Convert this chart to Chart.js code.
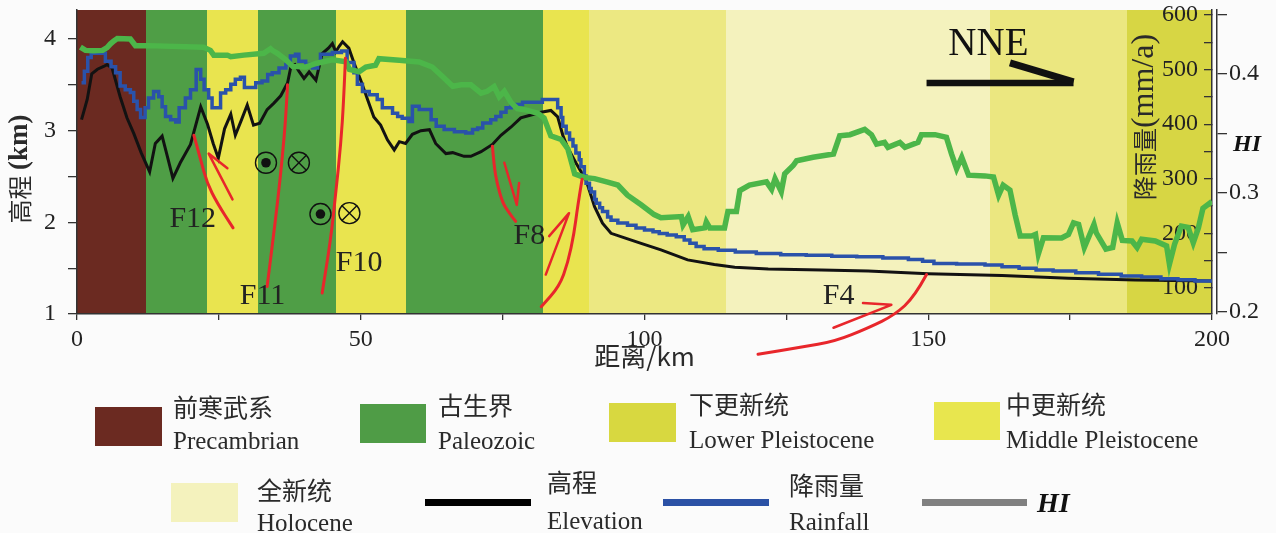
<!DOCTYPE html>
<html>
<head>
<meta charset="utf-8">
<script src="https://cdn.jsdelivr.net/npm/chart.js@4.4.1/dist/chart.umd.min.js"></script>
<style>
  html, body { margin: 0; padding: 0; background: #fbfbfb; }
  #wrap { position: relative; width: 1276px; height: 533px; overflow: hidden; color: #222; }
  #wrap canvas { position: absolute; left: 0; top: 0; }
  .sw { position: absolute; }
  .t { position: absolute; white-space: nowrap; line-height: 1; }
  .zh { font-family: 'Noto Sans CJK SC', sans-serif; font-size: 25px; color: #2a2a2a; }
  .en { font-family: 'Liberation Serif', serif; font-size: 25px; color: #2a2a2a; }
  .hi { font-family: 'Liberation Serif', serif; font-size: 28px; font-style: italic; font-weight: bold; color: #111; }
</style>
</head>
<body>
<div id="wrap">
  <canvas id="profile" width="1276" height="533"></canvas>

  <!-- legend: geological units -->
  <div class="sw" style="left:95px;top:407px;width:67px;height:39px;background:#6b2a21"></div>
  <div class="t zh" style="left:173px;top:394px">前寒武系</div>
  <div class="t en" style="left:173px;top:428px">Precambrian</div>

  <div class="sw" style="left:360px;top:404px;width:66px;height:39px;background:#4f9c46"></div>
  <div class="t zh" style="left:438px;top:392px">古生界</div>
  <div class="t en" style="left:438px;top:428px">Paleozoic</div>

  <div class="sw" style="left:609px;top:403px;width:67px;height:39px;background:#d8d840"></div>
  <div class="t zh" style="left:689px;top:391px">下更新统</div>
  <div class="t en" style="left:689px;top:427px">Lower Pleistocene</div>

  <div class="sw" style="left:934px;top:402px;width:66px;height:38px;background:#e8e64e"></div>
  <div class="t zh" style="left:1006px;top:391px">中更新统</div>
  <div class="t en" style="left:1006px;top:427px">Middle Pleistocene</div>

  <div class="sw" style="left:171px;top:483px;width:67px;height:39px;background:#f4f2bd"></div>
  <div class="t zh" style="left:257px;top:477px">全新统</div>
  <div class="t en" style="left:257px;top:510px">Holocene</div>

  <!-- legend: profile curves -->
  <div class="sw" style="left:425px;top:499px;width:106px;height:7px;background:#000"></div>
  <div class="t zh" style="left:547px;top:469px">高程</div>
  <div class="t en" style="left:547px;top:508px">Elevation</div>

  <div class="sw" style="left:663px;top:499px;width:106px;height:7px;background:#2b51a5"></div>
  <div class="t zh" style="left:789px;top:472px">降雨量</div>
  <div class="t en" style="left:789px;top:509px">Rainfall</div>

  <div class="sw" style="left:922px;top:499px;width:105px;height:7px;background:#808080"></div>
  <div class="t hi" style="left:1037px;top:489px">HI</div>
</div>

<script>
// ---- Swath profile along the NNE line (distance in km) ----
const elevKm  = [0.8, 1.8, 2.6, 3.6, 4.7, 5.3, 6.2, 7.6, 8.8, 10.0, 11.3, 12.8, 13.8, 15.0, 16.0, 16.9, 18.2, 20.0, 21.8, 23.0,
                 24.0, 24.9, 26.0, 27.1, 27.9, 29.0, 30.0, 31.1, 32.2, 33.5, 34.7, 35.9, 37.1, 37.7, 38.4, 39.1, 40.0, 40.9, 42.1, 43.2,
                 44.3, 45.0, 45.6, 46.2, 46.8, 47.9, 48.8, 50.0, 51.2, 52.3, 53.5, 54.7, 55.9, 56.8, 57.9, 59.1, 60.6, 62.1, 63.2, 65.0,
                 66.2, 68.2, 69.4, 71.2, 73.2, 74.7, 76.5, 78.2, 80.0, 81.8, 83.5, 84.7, 85.6, 86.5, 87.9, 89.7, 91.2, 92.6, 94.1, 96.5,
                 99.4, 102.9, 107.6, 112.3, 115.9, 121.8, 131.2, 139.4, 150.0, 163.0, 174.7, 186.5, 200.0];
const elevVal = [3.12, 3.34, 3.62, 3.67, 3.70, 3.72, 3.68, 3.37, 3.14, 2.97, 2.76, 2.55, 2.86, 2.94, 2.70, 2.48, 2.65, 2.85, 3.26, 3.07,
                 2.86, 2.70, 3.02, 3.18, 2.95, 3.12, 3.28, 3.06, 3.08, 3.23, 3.30, 3.38, 3.52, 3.70, 3.72, 3.65, 3.57, 3.64, 3.55, 3.84,
                 3.90, 3.95, 3.86, 3.92, 3.97, 3.90, 3.74, 3.55, 3.34, 3.15, 3.06, 2.90, 2.79, 2.88, 2.86, 2.96, 3.00, 3.01, 2.86, 2.75,
                 2.76, 2.72, 2.72, 2.77, 2.85, 2.95, 3.04, 3.14, 3.17, 3.20, 3.22, 3.15, 2.95, 2.81, 2.65, 2.46, 2.17, 1.99, 1.88, 1.83,
                 1.77, 1.70, 1.59, 1.54, 1.51, 1.49, 1.48, 1.47, 1.44, 1.42, 1.39, 1.37, 1.36];

// rainfall (mm/a), one value per step starting at the given distance
const rainKm  = [0.8, 1.3, 1.9, 2.5, 5.0, 6.0, 6.8, 7.6, 8.5, 9.4, 10.0, 10.6, 11.2, 12.0, 12.6, 13.5, 14.4, 15.0, 15.6, 16.5,
                 17.4, 18.0, 19.1, 20.0, 21.0, 21.8, 22.4, 23.2, 23.8, 25.3, 26.2, 27.1, 27.9, 28.8, 29.5, 31.5, 32.6, 33.6, 34.4, 35.6,
                 36.8, 37.6, 38.5, 39.1, 40.3, 41.5, 42.4, 42.9, 45.0, 46.6, 47.6, 48.8, 49.4, 50.3, 51.5, 52.9, 53.8, 55.6, 56.5, 57.3,
                 58.5, 59.1, 60.3, 62.4, 63.3, 64.7, 66.5, 68.5, 69.7, 70.6, 71.5, 72.9, 73.8, 74.7, 75.6, 76.5, 78.5, 82.0, 84.7, 85.3,
                 85.6, 86.2, 86.8, 87.4, 87.9, 88.5, 88.8, 89.4, 89.7, 90.3, 90.6, 91.2, 91.5, 92.1, 92.6, 93.5, 94.1, 95.3, 97.0, 98.5,
                 100.0, 101.5, 102.6, 104.0, 105.6, 107.0, 108.0, 109.1, 110.5, 113.0, 116.0, 119.7, 124.0, 128.5, 133.0, 137.4, 142.0, 146.5, 149.0, 151.0,
                 155.0, 160.0, 163.0, 166.0, 169.0, 172.0, 176.0, 180.0, 184.0, 187.6, 191.0, 194.0, 197.0, 200.0];
const rainVal = [476, 497, 522, 530, 515, 505, 494, 470, 463, 458, 442, 427, 412, 430, 448, 460, 450, 432, 414, 408,
                 404, 430, 448, 463, 500, 482, 463, 448, 430, 457, 463, 473, 482, 486, 467, 476, 479, 491, 494, 503,
                 509, 525, 528, 515, 509, 503, 512, 528, 531, 534, 513, 494, 473, 460, 454, 445, 430, 420, 414, 411,
                 405, 433, 427, 408, 396, 390, 386, 384, 390, 393, 402, 408, 414, 422, 430, 436, 440, 445, 430, 412,
                 396, 384, 372, 360, 347, 335, 322, 305, 292, 282, 276, 262, 255, 247, 240, 230, 224, 219, 215, 210,
                 206, 203, 200, 197, 194, 188, 182, 176, 172, 169, 166, 163, 161, 160, 158, 157, 155, 152, 149, 145,
                 144, 142, 139, 136, 133, 131, 128, 125, 122, 120, 117, 115, 113, 111];

// hypsometric integral
const hiKm  = [0.6, 1.5, 2.9, 4.5, 5.3, 5.9, 6.5, 7.1, 9.4, 10.3, 12.4, 22.3, 23.5, 24.1, 26.5, 27.1, 29.4, 32.9, 34.1, 34.4,
               35.3, 36.8, 38.0, 40.3, 42.1, 45.0, 47.4, 48.0, 49.7, 50.9, 52.6, 53.2, 56.8, 60.3, 62.6, 64.4, 66.2, 67.7, 69.4, 71.2,
               72.3, 73.5, 74.4, 75.3, 76.5, 77.6, 79.4, 81.2, 82.3, 83.5, 85.3, 86.5, 87.7, 89.4, 91.2, 93.5, 95.3, 97.0, 99.4, 101.7,
               102.9, 106.5, 106.8, 107.7, 108.5, 110.6, 110.9, 111.5, 114.1, 114.7, 116.2, 116.8, 118.5, 121.5, 122.4, 123.0, 124.1, 124.7, 126.2, 126.8,
               129.7, 133.3, 134.4, 136.2, 138.8, 140.0, 140.9, 142.3, 142.9, 145.0, 145.9, 148.2, 148.8, 151.2, 153.2, 154.1, 155.0, 155.9, 157.1, 160.0,
               161.5, 162.4, 163.2, 164.4, 165.3, 166.2, 168.2, 168.9, 169.4, 170.3, 173.5, 174.7, 175.6, 176.5, 177.5, 179.2, 179.6, 181.3, 182.5, 183.3,
               184.2, 185.9, 186.8, 187.6, 190.0, 192.0, 192.5, 193.4, 194.6, 195.8, 196.7, 197.6, 198.4, 200.0];
const hiVal = [0.4227, 0.4200, 0.4196, 0.4200, 0.4224, 0.4255, 0.4280, 0.4300, 0.4296, 0.4240, 0.4240, 0.4227, 0.4200, 0.4160, 0.4160, 0.4146, 0.4160, 0.4175, 0.4213, 0.4200,
               0.4175, 0.4120, 0.4065, 0.4060, 0.4090, 0.4120, 0.4105, 0.4040, 0.4020, 0.4060, 0.4075, 0.4130, 0.4117, 0.4103, 0.4060, 0.3980, 0.3898, 0.3910, 0.3910, 0.3840,
               0.3855, 0.3895, 0.3810, 0.3855, 0.3760, 0.3710, 0.3695, 0.3670, 0.3630, 0.3480, 0.3450, 0.3370, 0.3160, 0.3130, 0.3120, 0.3090, 0.3066, 0.2980, 0.2900, 0.2817,
               0.2790, 0.2800, 0.2730, 0.2800, 0.2690, 0.2705, 0.2755, 0.2705, 0.2705, 0.2844, 0.2844, 0.3020, 0.3066, 0.3093, 0.3030, 0.3120, 0.3010, 0.3160, 0.3230, 0.3270,
               0.3300, 0.3328, 0.3480, 0.3490, 0.3535, 0.3490, 0.3410, 0.3425, 0.3384, 0.3425, 0.3384, 0.3425, 0.3490, 0.3490, 0.3467, 0.3328, 0.3203, 0.3300, 0.3149, 0.3143,
               0.3134, 0.2980, 0.3065, 0.3024, 0.2817, 0.2637, 0.2637, 0.2650, 0.2485, 0.2622, 0.2620, 0.2650, 0.2747, 0.2734, 0.2540, 0.2734, 0.2664, 0.2526, 0.2540, 0.2747,
               0.2600, 0.2595, 0.2540, 0.2610, 0.2595, 0.2553, 0.2400, 0.2567, 0.2720, 0.2710, 0.2580, 0.2705, 0.2870, 0.2927];

// surface geology along the profile
const bandEdges  = [0, 12.2, 22.9, 31.9, 45.6, 57.9, 82.1, 90.2, 114.4, 160.9, 185.0, 200];
const bandColors = ['#6b2a21', '#4f9e46', '#e9e44f', '#4f9e46', '#e9e44f', '#4f9e46', '#e9e44f', '#ece882', '#f4f2bd', '#ebe780', '#d7d644'];

// labelled tick values
const distLabels = [0, 50, 100, 150, 200];
const elevLabels = [1, 2, 3, 4];
const rainLabels = [100, 200, 300, 400, 500, 600];
const hiLabels   = [0.2, 0.3, 0.4];

// faults (distance km, elevation km)
const faultTraces = [
  [[20.6, 2.95], [21.8, 2.68], [22.9, 2.43], [24.7, 2.21], [27.5, 1.94]],
  [[37.1, 3.50], [36.8, 3.15], [36.2, 2.72], [35.4, 2.25], [34.4, 1.74], [33.5, 1.30]],
  [[47.3, 3.79], [47.0, 3.34], [46.5, 2.86], [45.6, 2.32], [44.7, 1.81], [43.2, 1.23]],
  [[73.2, 2.83], [73.5, 2.61], [74.0, 2.43], [75.0, 2.21], [76.2, 2.10], [77.3, 2.01]],
  [[89.0, 2.47], [88.2, 2.17], [87.6, 1.88], [86.5, 1.56], [85.0, 1.30], [81.8, 1.08]],
  [[149.7, 1.43], [147.6, 1.19], [144.1, 0.99], [139.5, 0.85], [133.5, 0.70], [127.6, 0.64], [120.0, 0.56]]
];
// slip arrows: tail, head, barb end
const slipArrows = [
  [[27.4, 2.25], [23.2, 2.75], [26.5, 2.59]],
  [[75.3, 2.65], [77.5, 2.19], [77.9, 2.43]],
  [[82.6, 1.43], [86.7, 2.10], [83.2, 1.85]],
  [[133.3, 0.85], [143.5, 1.10], [138.5, 1.12]]
];
const faultNames = ['F12', 'F11', 'F10', 'F8', 'F4'];
const faultNameKm = [20.4, 32.7, 49.7, 79.7, 134.2];
const faultNameEl = [2.04, 1.19, 1.56, 1.85, 1.19];

// strike-slip symbols: out of / into the section
const outOfPage = [[33.3, 2.65], [42.9, 2.09]];
const intoPage  = [[39.1, 2.65], [48.0, 2.10]];

const FONT_SERIF = "'Liberation Serif', serif";
const FONT_CJK = "'Noto Sans CJK SC', sans-serif";

const pts = (xs, ys) => xs.map((v, i) => ({ x: v, y: ys[i] }));
const nearIn = (list, v) => list.some(t => Math.abs(t - v) < 1e-6);

function smoothPath(ctx, p) {
  ctx.beginPath();
  ctx.moveTo(p[0][0], p[0][1]);
  for (let i = 1; i < p.length - 1; i++) {
    const mx = (p[i][0] + p[i + 1][0]) / 2, my = (p[i][1] + p[i + 1][1]) / 2;
    ctx.quadraticCurveTo(p[i][0], p[i][1], mx, my);
  }
  const last = p[p.length - 1];
  ctx.lineTo(last[0], last[1]);
  ctx.stroke();
}

function rotatedTitle(ctx, cx, cy, parts) {
  ctx.save();
  ctx.translate(cx, cy);
  ctx.rotate(-Math.PI / 2);
  ctx.textBaseline = 'middle';
  ctx.textAlign = 'left';
  let total = 0;
  const widths = parts.map(p => { ctx.font = p.font; const w = ctx.measureText(p.text).width; total += w; return w; });
  let pos = -total / 2;
  parts.forEach((p, i) => { ctx.font = p.font; ctx.fillText(p.text, pos, 0); pos += widths[i]; });
  ctx.restore();
}

// keep the plot frame fixed: no extra room for overhanging tick labels
function fixedBox(prop, size) {
  return s => {
    s[prop] = size;
    s.paddingTop = 0; s.paddingBottom = 0; s.paddingLeft = 0; s.paddingRight = 0;
  };
}

const profileDecor = {
  id: 'profileDecor',
  beforeDraw(chart) {
    const { ctx, chartArea: a, scales: { x } } = chart;
    ctx.save();
    for (let i = 0; i < bandColors.length; i++) {
      const x0 = Math.round(x.getPixelForValue(bandEdges[i]));
      const x1 = Math.round(x.getPixelForValue(bandEdges[i + 1]));
      ctx.fillStyle = bandColors[i];
      ctx.fillRect(x0, a.top, x1 - x0, a.bottom - a.top);
    }
    ctx.restore();
  },
  afterDatasetsDraw(chart) {
    const { ctx, scales: { x, y } } = chart;
    const P = ([k, e]) => [x.getPixelForValue(k), y.getPixelForValue(e)];
    ctx.save();
    ctx.lineCap = 'round';
    ctx.lineJoin = 'round';

    // faults
    ctx.strokeStyle = '#e8262b';
    ctx.lineWidth = 3;
    faultTraces.forEach(tr => smoothPath(ctx, tr.map(P)));
    slipArrows.forEach(([t, h, b]) => {
      const [tx, ty] = P(t), [hx, hy] = P(h), [bx, by] = P(b);
      ctx.lineWidth = 2.5;
      ctx.beginPath();
      ctx.moveTo(tx, ty); ctx.lineTo(hx, hy); ctx.lineTo(bx, by);
      ctx.stroke();
    });

    // strike-slip symbols
    ctx.strokeStyle = '#111';
    ctx.fillStyle = '#111';
    ctx.lineWidth = 1.4;
    outOfPage.forEach(p => {
      const [cx, cy] = P(p);
      ctx.beginPath(); ctx.arc(cx, cy, 10.5, 0, Math.PI * 2); ctx.stroke();
      ctx.beginPath(); ctx.arc(cx, cy, 4.8, 0, Math.PI * 2); ctx.fill();
    });
    intoPage.forEach(p => {
      const [cx, cy] = P(p);
      const r = 10.5, d = r * 0.707;
      ctx.beginPath(); ctx.arc(cx, cy, r, 0, Math.PI * 2); ctx.stroke();
      ctx.beginPath();
      ctx.moveTo(cx - d, cy - d); ctx.lineTo(cx + d, cy + d);
      ctx.moveTo(cx + d, cy - d); ctx.lineTo(cx - d, cy + d);
      ctx.stroke();
    });

    // fault names
    ctx.fillStyle = '#222';
    ctx.font = '30px ' + FONT_SERIF;
    ctx.textAlign = 'center';
    ctx.textBaseline = 'middle';
    faultNames.forEach((n, i) => {
      const [cx, cy] = P([faultNameKm[i], faultNameEl[i]]);
      ctx.fillText(n, cx, cy);
    });

    // profile direction
    ctx.fillStyle = '#111';
    ctx.font = '39px ' + FONT_SERIF;
    const [nx, ny] = P([160.6, 3.935]);
    ctx.fillText('NNE', nx, ny);
    ctx.strokeStyle = '#111';
    ctx.lineCap = 'butt';
    ctx.lineWidth = 6.5;
    const [a0x, a0y] = P([149.7, 3.52]);
    const [a1x, a1y] = P([175.6, 3.52]);
    ctx.beginPath(); ctx.moveTo(a0x, a0y); ctx.lineTo(a1x, a1y); ctx.stroke();
    const [b0x, b0y] = P([164.4, 3.74]);
    ctx.lineWidth = 7;
    ctx.beginPath(); ctx.moveTo(b0x, b0y); ctx.lineTo(a1x, a1y - 1); ctx.stroke();
    ctx.restore();
  },
  afterDraw(chart) {
    const { ctx, chartArea: a, scales: { y, hi } } = chart;
    ctx.save();
    ctx.fillStyle = '#2a2a2a';
    rotatedTitle(ctx, y.left + 20, (a.top + a.bottom) / 2 + 7, [
      { text: '高程 ', font: '24px ' + FONT_CJK },
      { text: '(km)', font: 'bold 27px ' + FONT_SERIF }
    ]);
    rotatedTitle(ctx, a.right - 67, a.top + 107, [
      { text: '降雨量', font: '24px ' + FONT_CJK },
      { text: '(mm/a)', font: '32px ' + FONT_SERIF }
    ]);
    ctx.fillStyle = '#111';
    ctx.font = 'italic bold 24px ' + FONT_SERIF;
    ctx.textAlign = 'left';
    ctx.textBaseline = 'middle';
    ctx.fillText('HI', hi.left + 16, a.top + 135);
    ctx.restore();
  }
};

const axisColor = '#333';
const tickFont = { family: FONT_SERIF, size: 24 };

new Chart(document.getElementById('profile'), {
  type: 'line',
  data: {
    datasets: [
      {
        label: 'HI',
        data: pts(hiKm, hiVal),
        yAxisID: 'hi',
        borderColor: '#4cb649',
        borderWidth: 5.5,
        pointRadius: 0,
        tension: 0
      },
      {
        label: 'Rainfall',
        data: pts(rainKm, rainVal),
        yAxisID: 'rain',
        borderColor: '#2a52aa',
        borderWidth: 3.5,
        stepped: true,
        pointRadius: 0
      },
      {
        label: 'Elevation',
        data: pts(elevKm, elevVal),
        yAxisID: 'y',
        borderColor: '#121212',
        borderWidth: 3,
        pointRadius: 0,
        tension: 0
      }
    ]
  },
  options: {
    responsive: false,
    animation: false,
    devicePixelRatio: 1,
    layout: { padding: { left: 0, top: 10, right: 9, bottom: 161 } },
    plugins: { legend: { display: false }, tooltip: { enabled: false } },
    scales: {
      x: {
        type: 'linear',
        position: 'bottom',
        min: 0, max: 200,
        ticks: {
          stepSize: 25, autoSkip: false, includeBounds: false,
          font: tickFont, color: '#222', padding: 5, maxRotation: 0,
          callback: v => nearIn(distLabels, v) ? String(v) : ''
        },
        grid: { drawOnChartArea: false, tickLength: 6, tickColor: axisColor, lineWidth: 1.3 },
        border: { color: axisColor, width: 1.5 },
        title: { display: true, text: '距离/km', font: { family: "'Noto Sans CJK SC', 'Liberation Serif', sans-serif", size: 26 }, color: '#2a2a2a', padding: 0 },
        afterFit: fixedBox('height', 58)
      },
      y: {
        type: 'linear',
        position: 'left',
        min: 1, max: 4.316,
        ticks: {
          stepSize: 0.5, autoSkip: false, includeBounds: false,
          font: tickFont, color: '#222', padding: 12,
          callback: v => nearIn(elevLabels, v) ? String(v) : ''
        },
        grid: { drawOnChartArea: false, tickLength: 9, tickColor: axisColor, lineWidth: 1.3 },
        border: { color: axisColor, width: 1.5 },
        afterFit: fixedBox('width', 77)
      },
      rain: {
        type: 'linear',
        position: 'right',
        weight: 0,
        min: 52.4, max: 609,
        ticks: {
          stepSize: 50, autoSkip: false, includeBounds: false, mirror: true,
          font: tickFont, color: '#222', padding: -14,
          callback: v => nearIn(rainLabels, v) ? String(v) : ''
        },
        grid: { drawOnChartArea: false, tickLength: -8, tickColor: axisColor, lineWidth: 1.3 },
        border: { color: axisColor, width: 1.5 },
        afterFit: fixedBox('width', 5)
      },
      hi: {
        type: 'linear',
        position: 'right',
        weight: 1,
        min: 0.198, max: 0.454,
        ticks: {
          stepSize: 0.05, autoSkip: false, includeBounds: false,
          font: tickFont, color: '#222', padding: 2,
          callback: v => nearIn(hiLabels, v) ? v.toFixed(1) : ''
        },
        grid: { drawOnChartArea: false, tickLength: 10, tickColor: axisColor, lineWidth: 1.3 },
        border: { color: axisColor, width: 1.5 },
        afterFit: fixedBox('width', 50)
      }
    }
  },
  plugins: [profileDecor]
});
</script>
</body>
</html>
